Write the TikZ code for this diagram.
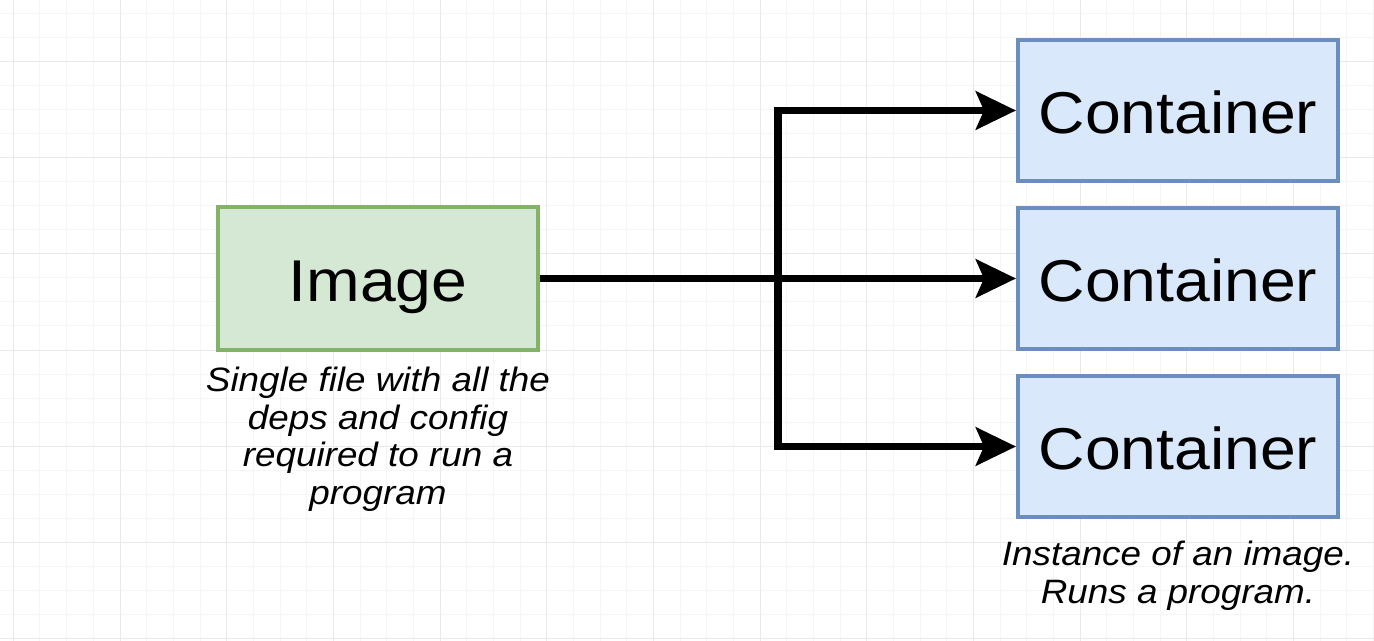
\documentclass[tikz,border=0pt]{standalone}
\usepackage{fontspec}
\setmainfont{Liberation Sans}[FakeStretch=1.09]
\usepackage{tikz}
\usetikzlibrary{arrows.meta,positioning}

\definecolor{imgfill}{HTML}{D5E8D4}
\definecolor{imgline}{HTML}{82B366}
\definecolor{ctrfill}{HTML}{DAE8FC}
\definecolor{ctrline}{HTML}{6C8EBF}
\definecolor{gridminor}{HTML}{F5F5F5}
\definecolor{gridmajor}{HTML}{E9E9E9}

\begin{document}
\begin{tikzpicture}[x=0.5pt,y=-0.5pt,
			imgbox/.style={draw=imgline,fill=imgfill,line width=2pt,minimum width=160pt,
				minimum height=71pt,text height=22.5pt,text depth=0pt,font=\fontsize{29.5}{34}\selectfont},
			ctrbox/.style={draw=ctrline,fill=ctrfill,line width=2pt,minimum width=160pt,
				minimum height=70.5pt,text height=23pt,text depth=0pt,font=\fontsize{29.5}{34}\selectfont},
			note/.style={align=center,inner sep=0pt,font=\fontsize{16.9}{18.9}\selectfont\itshape},
			flow/.style={draw,line width=3.8pt,-{Stealth[length=20pt,width=19pt,inset=4pt]}}]
			\useasboundingbox (0,0) rectangle (1374,641);
			\fill[white] (0,0) rectangle (1374,641);
			% background grid
			\foreach \k in {0,...,51}
				\draw[gridminor,line width=0.5pt] (13.33+26.667*\k,0) -- (13.33+26.667*\k,641);
			\foreach \k in {0,...,26}
				\draw[gridminor,line width=0.5pt] (0,14+24*\k) -- (1374,14+24*\k);
			\foreach \k in {0,...,12}
				\draw[gridmajor,line width=0.5pt] (13.33+106.67*\k,0) -- (13.33+106.67*\k,641);
			\foreach \k in {0,...,6}
				\draw[gridmajor,line width=0.5pt] (0,62+96*\k) -- (1374,62+96*\k);

			\node[imgbox] (img) at (378,278.5) {Image};
			\node[ctrbox] (ctr2) at (1178,278.5) {Container};
			\node[ctrbox] (ctr1) [above=11.5pt of ctr2] {Container};
			\node[ctrbox] (ctr3) [below=11.5pt of ctr2] {Container};
			\node[note] (imgnote) [below=7.5pt of img] {Single file with all the\\deps and config\\required to run a\\program};
			\node[note] (ctrnote) [below=11pt of ctr3] {Instance of an image.\\Runs a program.};

			\coordinate (jn) at (778,278.5);
			\path[flow] (img) -- (ctr2);
			\path[flow] (jn) |- (ctr1);
			\path[flow] (jn) |- (ctr3);
		\end{tikzpicture}
\end{document}
